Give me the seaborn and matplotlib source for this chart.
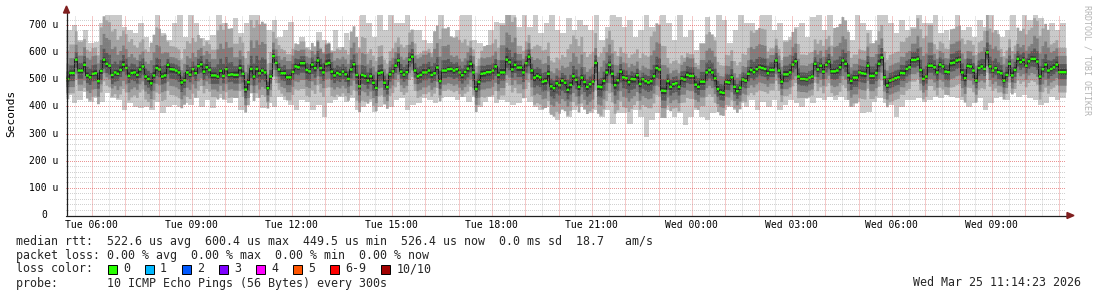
import numpy as np
import matplotlib
matplotlib.use("Agg")
import matplotlib.pyplot as plt
import matplotlib.transforms as mtrans
from matplotlib.lines import Line2D
from matplotlib.patches import Polygon, Rectangle
import seaborn as sns

sns.set_style("white")
plt.rcParams['font.family'] = ['DejaVu Sans Mono', 'DejaVu Sans']

# ---------------- data (microseconds) ----------------
START_H = 5.25          # Tue 05:15, hours since Tue 00:00
STEP_MIN = 5            # one median per 5 minutes

median = [
    503,525,525,574,534,534,555,516,509,522, 524,495,533,574,559,552,518,527,522,536,
    556,543,514,525,527,518,538,549,512,503, 487,516,543,538,512,516,555,539,538,534,
    527,490,498,527,519,539,524,550,557,530, 546,536,516,516,512,533,514,539,518,520, 518,
    518,543,522,464,491,540,512,540,524,534, 527,469,512,587,562,538,524,524,509,509,
    529,549,546,561,561,536,531,556,543,571, 543,527,559,562,530,516,525,520,530,520,
    503,538,557,518,476,518,514,497,513,489, 470,524,527,489,473,520,531,552,571,530, 519,
    528,574,585,534,513,518,527,527,534,518, 524,545,495,534,534,539,540,534,539,527,
    517,529,541,559,527,466,492,522,524,528, 528,534,549,518,527,527,574,565,538,555,
    545,545,527,561,585,534,508,514,509,493, 496,522,476,469,487,480,497,489,463,481, 513,
    500,474,508,492,474,484,493,562,475,473, 496,527,555,522,480,498,530,509,506,491,
    503,502,517,485,502,495,490,495,513,543, 538,460,459,495,474,484,487,474,505,501,
    518,514,514,482,474,493,493,527,536,527, 505,466,454,452,492,490,509,474,458,471, 501,
    497,522,536,528,539,546,543,540,524,536, 536,571,534,493,520,520,527,556,568,512,
    503,503,501,508,512,559,538,552,530, 555,567,531,531,534,546,571,559,516,496,
    508,508,527,524,522,552,514,514,525,559, 582,509,479,497,501,506,509,525,524,540,546,573,
    573,577,536,503,512,552,552,546,527,556, 549,530,528,561,563,571,574,527,506,551,
    549,534,497,543,549,540,601,549,534,543, 528,524,497,518,559,516,536,577,565,573,
    552,568,577,577,567,512,539,556,534,540, 546,556,528,528,528,
]

# outermost smoke (slowest / fastest ping), one value per 10 minutes
ping_max = [
    681,700,644,681,632,638,706,740,740,740,694,681,669,706,657,620,740,669,644,706,740,657,740,706,651,644,663,740,706,669,
    724,669,706,740,740,644,681,718,657,681,712,620,657,620,608,675,644,608,681,620,669,644,620,740,706,657,740,681,740,706,706,
    740,681,681,644,632,669,740,657,657,681,740,740,644,632,620,681,712,706,740,740,694,740,694,740,669,706,740,681,669,724,681,
    718,700,681,740,644,694,740,730,694,718,657,681,740,694,632,740,706,644,740,657,681,608,632,730,657,740,718,632,681,740,706,
    706,681,740,740,681,706,644,657,694,706,657,730,740,681,740,669,632,681,644,740,706,681,632,740,740,706,669,718,681,694,
    740,706,706,740,669,681,644,740,681,694,657,718,694,740,681,657,681,740,644,740,718,740,724,681,706,681,706,
]
ping_min = [
    442,411,423,454,417,430,417,448,430,423,387,411,399,393,399,387,417,374,399,405,399,411,405,430,399,423,393,430,423,411,
    436,387,423,448,430,393,411,399,436,423,405,387,423,417,387,405,362,411,423,436,417,430,387,399,417,380,399,417,399,423,430,
    387,405,411,430,423,411,430,436,436,423,436,417,436,399,417,436,411,423,417,405,411,430,417,399,387,399,374,350,387,362,387,
    399,387,374,387,362,387,337,374,374,337,387,362,287,350,374,356,387,362,374,331,362,387,362,350,374,399,387,399,387,411,399,
    423,387,417,399,423,387,405,423,411,399,430,411,430,423,436,423,436,423,399,417,374,380,417,430,411,405,362,399,423,423,
    430,417,423,436,430,442,436,430,423,399,411,430,387,411,430,436,423,448,436,442,430,423,405,411,436,423,430,
]

# inner smoke: distance of ping pairs above / below the median, one value per 30 minutes
up4 = [105,95,160,125,100,150,85,115,95,170, 115,180,90,85,80,75,90,140,100,85,
       100,80,155,120,85,100,175,80,115,95, 150,110,125,90,95,165,85,80,140,100,
       95,145,80,120,90,95,160,85,120,95, 115,150,85,125,95,140,90,115,150,90]
dn4 = [75,85,80,90,85,90,95,90,80,85, 85,90,75,85,95,90,80,95,85,80,
       75,80,75,80,85,90,85,95,100,105, 95,100,105,110,95,100,90,85,90,85,
       80,85,75,80,70,80,90,95,85,80, 80,75,85,90,80,75,70,80,85,75]
up3 = [55,65,95,70,55,85,45,60,60,100, 65,105,50,60,50,70,55,80,60,50,
       55,65,90,50,60,55,100,50,65,55, 85,55,75,55,50,95,50,65,80,60,
       50,85,55,65,50,55,90,50,70,55, 60,85,50,70,55,80,60,55,85,60]
dn3 = [52,58,50,60,55,58,62,56,52,55, 58,60,50,55,62,58,52,60,56,52,
       50,55,52,56,58,60,57,62,65,68, 62,66,68,72,62,64,60,56,58,55,
       52,56,50,55,48,52,58,62,56,52, 52,50,56,58,52,50,48,52,56,50]
up2 = [28,32,40,35,30,38,22,28,30,45, 32,48,24,30,26,35,28,36,30,26,
       28,32,38,25,30,27,45,26,32,28, 38,28,34,28,24,42,26,32,36,30,
       26,38,28,32,24,28,40,26,35,28, 30,38,26,34,28,36,30,28,38,30]
dn2 = [30,28,34,26,32,29,35,28,31,27, 32,34,26,29,35,31,28,33,30,27,
       26,29,28,31,32,34,30,35,36,38, 35,37,38,40,35,36,32,30,31,29,
       28,30,26,29,25,28,31,34,30,28, 28,26,30,31,28,26,25,28,30,26]
up1 = [9,11,8,13,10,12,8,9,11,9, 12,10,8,11,9,13,10,8,11,9,
       10,12,9,8,11,10,13,9,11,10, 11,9,12,10,8,11,9,12,10,11,
       9,11,10,12,8,10,11,9,13,10, 11,10,9,12,10,8,11,10,9,11]
dn1 = [10,9,12,8,11,10,12,9,10,9, 11,12,9,10,12,11,9,11,10,9,
       9,10,9,11,11,12,10,12,13,13, 12,13,13,14,12,12,11,10,11,10,
       9,10,9,10,8,9,11,12,10,9, 9,9,10,11,9,9,8,9,10,9]

smoke_colors = ['#cacaca', '#a4a4a4', '#7e7e7e', '#585858', '#323232']

x_tick_hours = [6, 9, 12, 15, 18, 21, 24, 27, 30, 33]
x_tick_labels = ['Tue 06:00', 'Tue 09:00', 'Tue 12:00', 'Tue 15:00', 'Tue 18:00',
                 'Tue 21:00', 'Wed 00:00', 'Wed 03:00', 'Wed 06:00', 'Wed 09:00']
y_tick_values = [0, 100, 200, 300, 400, 500, 600, 700]
y_tick_labels = ['0  ', '100 u', '200 u', '300 u', '400 u', '500 u', '600 u', '700 u']

stats_rtt = 'median rtt:  522.6 us avg  600.4 us max  449.5 us min  526.4 us now  0.0 ms sd  18.7   am/s'
stats_loss = 'packet loss: 0.00 % avg  0.00 % max  0.00 % min  0.00 % now'
probe_text = 'probe:       10 ICMP Echo Pings (56 Bytes) every 300s'
stamp_text = 'Wed Mar 25 11:14:23 2026'
loss_labels = ['0', '1', '2', '3', '4', '5', '6-9', '10/10']
loss_colors = ['#26ff00', '#00b8ff', '#0059ff', '#7e00ff', '#ff00ff', '#ff5500', '#ff0000', '#a10000']

# ---------------- figure ----------------
W, H = 1097, 297
L, R, T, B = 66, 1066, 15, 215
fig = plt.figure(figsize=(W / 100, H / 100), dpi=100)
fig.patch.set_facecolor('white')
ax = fig.add_axes([L / W, 1 - B / H, (R - L) / W, (B - T) / H])
ax.set_facecolor('white')
YMAX = 736.8
X0, X1 = START_H, START_H + 30
ax.set_xlim(X0, X1)
ax.set_ylim(0, YMAX)
for s in ax.spines.values():
    s.set_visible(False)
ax.tick_params(left=False, bottom=False, labelleft=False, labelbottom=False)

def px(x):
    return x / W

def py(y):
    return 1 - y / H

med = np.array(median, dtype=float)
n = len(med)
xe = START_H + np.arange(n + 1) * STEP_MIN / 60.0

def ext(v):
    v = np.asarray(v, dtype=float)
    return np.append(v, v[-1])

# outermost band at 10 min
xo = START_H + np.arange(len(ping_max) + 1) * (10 / 60.0)
ax.fill_between(xo, ext(ping_min), ext(ping_max), step='post', color=smoke_colors[0],
                linewidth=0, antialiased=False, zorder=1)

rep = n // len(up4)
pairs = [(up4, dn4), (up3, dn3), (up2, dn2), (up1, dn1)]
for k, (u, d) in enumerate(pairs):
    hi = med + np.repeat(np.asarray(u, float), rep)
    lo = med - np.repeat(np.asarray(d, float), rep)
    ax.fill_between(xe, ext(lo), ext(hi), step='post', color=smoke_colors[k + 1],
                    linewidth=0, antialiased=False, zorder=1.1 + k * 0.1)

# median line
sns.lineplot(x=xe, y=ext(med), drawstyle='steps-post', color='#202020', linewidth=0.75,
             ax=ax, legend=False, zorder=2, sort=False)
# loss-coloured median marks (1.2 px above and below)
sw = 1.2 * YMAX / (B - T)
ax.fill_between(xe, ext(med - sw), ext(med + sw), step='post', color=loss_colors[0],
                linewidth=0, antialiased=False, zorder=2.2)

# dotted grid (1 px on / 1 px off) on top of the plot area like rrdtool
PW, PH = R - L, B - T
minor_c = (0.56, 0.56, 0.56, 0.40)
major_c = (0.87, 0.31, 0.31, 0.60)
hgrid = np.zeros((PH, PW, 4))
for v in range(20, int(YMAX), 20):
    r = int(round((YMAX - v) / YMAX * PH))
    if 0 <= r < PH:
        hgrid[r, 0::2] = major_c if v % 100 == 0 else minor_c
fig.figimage(hgrid, xo=L, yo=H - B, origin='upper', zorder=5)
for hh in np.arange(5.5, X1, 0.5):
    c = int(round((hh - X0) / (X1 - X0) * PW))
    col = major_c if float(hh).is_integer() else minor_c
    fig.add_artist(Line2D([px(L + c + 0.5)] * 2, [py(B), py(T)], color=col, lw=0.72,
                          linestyle=(0, (1, 1)), antialiased=True, zorder=5))

# axes lines and arrows
axis_c = '#1f1f1f'
arrow_c = '#801f1f'
fig.add_artist(Line2D([px(66), px(1068)], [py(215.5), py(215.5)], color=axis_c, lw=0.9, zorder=6))
fig.add_artist(Line2D([px(66.5), px(66.5)], [py(215), py(12)], color=axis_c, lw=0.9, zorder=6))
fig.add_artist(Polygon([[px(1067), py(212.5)], [px(1067), py(218.5)], [px(1074), py(215.5)]],
                       closed=True, color=arrow_c, transform=fig.transFigure, zorder=6))
fig.add_artist(Polygon([[px(63.5), py(13)], [px(69.5), py(13)], [px(66.5), py(6)]],
                       closed=True, color=arrow_c, transform=fig.transFigure, zorder=6))

# tick labels
tr_x = mtrans.blended_transform_factory(ax.transData, fig.transFigure)
for hh, lab in zip(x_tick_hours, x_tick_labels):
    ax.text(hh, py(224.5), lab, transform=tr_x, ha='center', va='center', fontsize=7, color='black')
tr_y = mtrans.blended_transform_factory(fig.transFigure, ax.transData)
for v, lab in zip(y_tick_values, y_tick_labels):
    lab_s = lab.rstrip()
    shift = (len(lab) - len(lab_s)) * 5.85
    ax.text(px(58.5 - shift), v, lab_s, transform=tr_y, ha='right', va='center', fontsize=7, color='black')

fig.text(px(11), py(113.5), 'Seconds', rotation=90, ha='center', va='center', fontsize=8, color='black')
fig.text(px(1087.5), py(5), 'RRDTOOL / TOBI OETIKER', rotation=270, ha='center', va='top',
         fontsize=6, color='#b4b4b4')

# legend block
FS = 8.4
CW = 7.02
fig.text(px(16), py(241), stats_rtt, ha='left', va='center', fontsize=FS)
fig.text(px(16), py(255), stats_loss, ha='left', va='center', fontsize=FS)
fig.text(px(16), py(269), 'loss color:', ha='left', va='center', fontsize=FS)
fig.text(px(16), py(283), probe_text, ha='left', va='center', fontsize=FS)
fig.text(px(1081), py(283), stamp_text, ha='right', va='center', fontsize=FS)

bx = 108
for lab, col in zip(loss_labels, loss_colors):
    fig.add_artist(Rectangle((px(bx), py(273.5)), 9 / W, 9 / H, transform=fig.transFigure,
                             facecolor=col, edgecolor='black', linewidth=0.7))
    fig.text(px(bx + 15), py(269), lab, ha='left', va='center', fontsize=FS)
    bx += 15 + CW * len(lab) + 15

fig.savefig('out.png', dpi=100, facecolor='white')
